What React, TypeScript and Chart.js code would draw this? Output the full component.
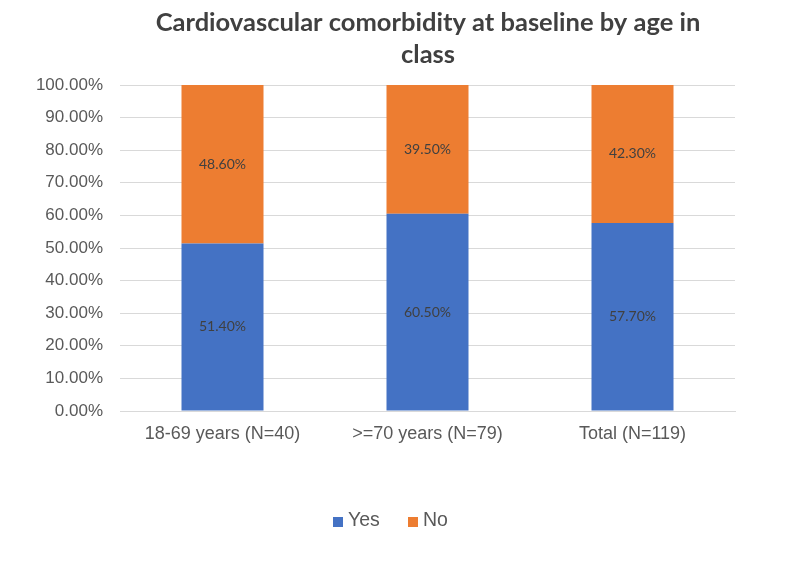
import React, { useEffect, useRef } from "react";
import { Chart, registerables } from "chart.js";

Chart.register(...registerables);

const categories = ["18-69 years (N=40)", ">=70 years (N=79)", "Total (N=119)"];
const yesValues = [51.4, 60.5, 57.7];
const noValues = [48.6, 39.5, 42.3];
const seriesNames = ["Yes", "No"];
const seriesColors = ["#4472C4", "#ED7D31"];
const titleLines = ["Cardiovascular comorbidity at baseline by age in", "class"];

const AXIS_FONT = "'Liberation Sans', Arial, sans-serif";

// Percentage labels centred in every stacked segment
const segmentLabels = {
  id: "segmentLabels",
  afterDatasetsDraw(chart: any) {
    const { ctx } = chart;
    ctx.save();
    ctx.font = '14px Lato, "Open Sans", sans-serif';
    ctx.fillStyle = "#404040";
    ctx.textAlign = "center";
    ctx.textBaseline = "middle";
    chart.data.datasets.forEach((ds: any, di: number) => {
      const meta = chart.getDatasetMeta(di);
      meta.data.forEach((bar: any, i: number) => {
        const v = ds.data[i] as number;
        const y = (bar.y + bar.base) / 2;
        ctx.fillText(v.toFixed(2) + "%", bar.x, y);
      });
    });
    ctx.restore();
  },
};

// Two-line bold title, centred a little right of the canvas middle
const titleBlock = {
  id: "titleBlock",
  afterDraw(chart: any) {
    const { ctx } = chart;
    ctx.save();
    ctx.font = 'bold 25.5px Lato, "Open Sans", sans-serif';
    ctx.fillStyle = "#404040";
    ctx.textAlign = "center";
    ctx.textBaseline = "alphabetic";
    ctx.fillText(titleLines[0], 428, 31);
    ctx.fillText(titleLines[1], 428, 63);
    ctx.restore();
  },
};

// Legend row under the x axis
const legendRow = {
  id: "legendRow",
  afterDraw(chart: any) {
    const { ctx } = chart;
    ctx.save();
    ctx.font = `19.5px ${AXIS_FONT}`;
    ctx.textBaseline = "middle";
    ctx.textAlign = "left";
    const cy = 521;
    const starts = [333, 408];
    chart.data.datasets.forEach((ds: any, i: number) => {
      const x = starts[i];
      ctx.fillStyle = ds.backgroundColor;
      ctx.fillRect(x, cy - 4, 10, 10);
      ctx.fillStyle = "#595959";
      ctx.fillText(ds.label, x + 15, cy);
    });
    ctx.restore();
  },
};

export default function App() {
  const ref = useRef<HTMLCanvasElement | null>(null);

  useEffect(() => {
    document.body.style.margin = "0";
    const canvas = ref.current;
    if (!canvas) return;
    const chart = new Chart(canvas, {
      type: "bar",
      data: {
        labels: categories,
        datasets: [
          { label: seriesNames[0], data: yesValues, backgroundColor: seriesColors[0], categoryPercentage: 1, barPercentage: 0.4 },
          { label: seriesNames[1], data: noValues, backgroundColor: seriesColors[1], categoryPercentage: 1, barPercentage: 0.4 },
        ],
      },
      options: {
        responsive: false,
        animation: false,
        layout: { padding: { left: 0, right: 75, top: 85, bottom: 115 } },
        plugins: {
          title: { display: false },
          legend: { display: false },
          tooltip: { enabled: false },
        },
        scales: {
          x: {
            stacked: true,
            afterFit: (scale: any) => {
              scale.height = 40;
            },
            grid: { display: false, drawTicks: false },
            border: { color: "#D9D9D9" },
            ticks: {
              color: "#595959",
              font: { family: AXIS_FONT, size: 18 },
              padding: 12,
            },
          },
          y: {
            stacked: true,
            min: 0,
            max: 100,
            afterFit: (scale: any) => {
              scale.width = 120;
            },
            grid: { color: "#D9D9D9", drawTicks: false },
            border: { display: false },
            ticks: {
              stepSize: 10,
              color: "#595959",
              padding: 17,
              font: { family: AXIS_FONT, size: 17 },
              callback: (v: any) => Number(v).toFixed(2) + "%",
            },
          },
        },
      },
      plugins: [segmentLabels, titleBlock, legendRow],
    });
    return () => chart.destroy();
  }, []);

  return (
    <div style={{ width: 810, height: 566, background: "#fff" }}>
      <canvas ref={ref} width={810} height={566} />
    </div>
  );
}
